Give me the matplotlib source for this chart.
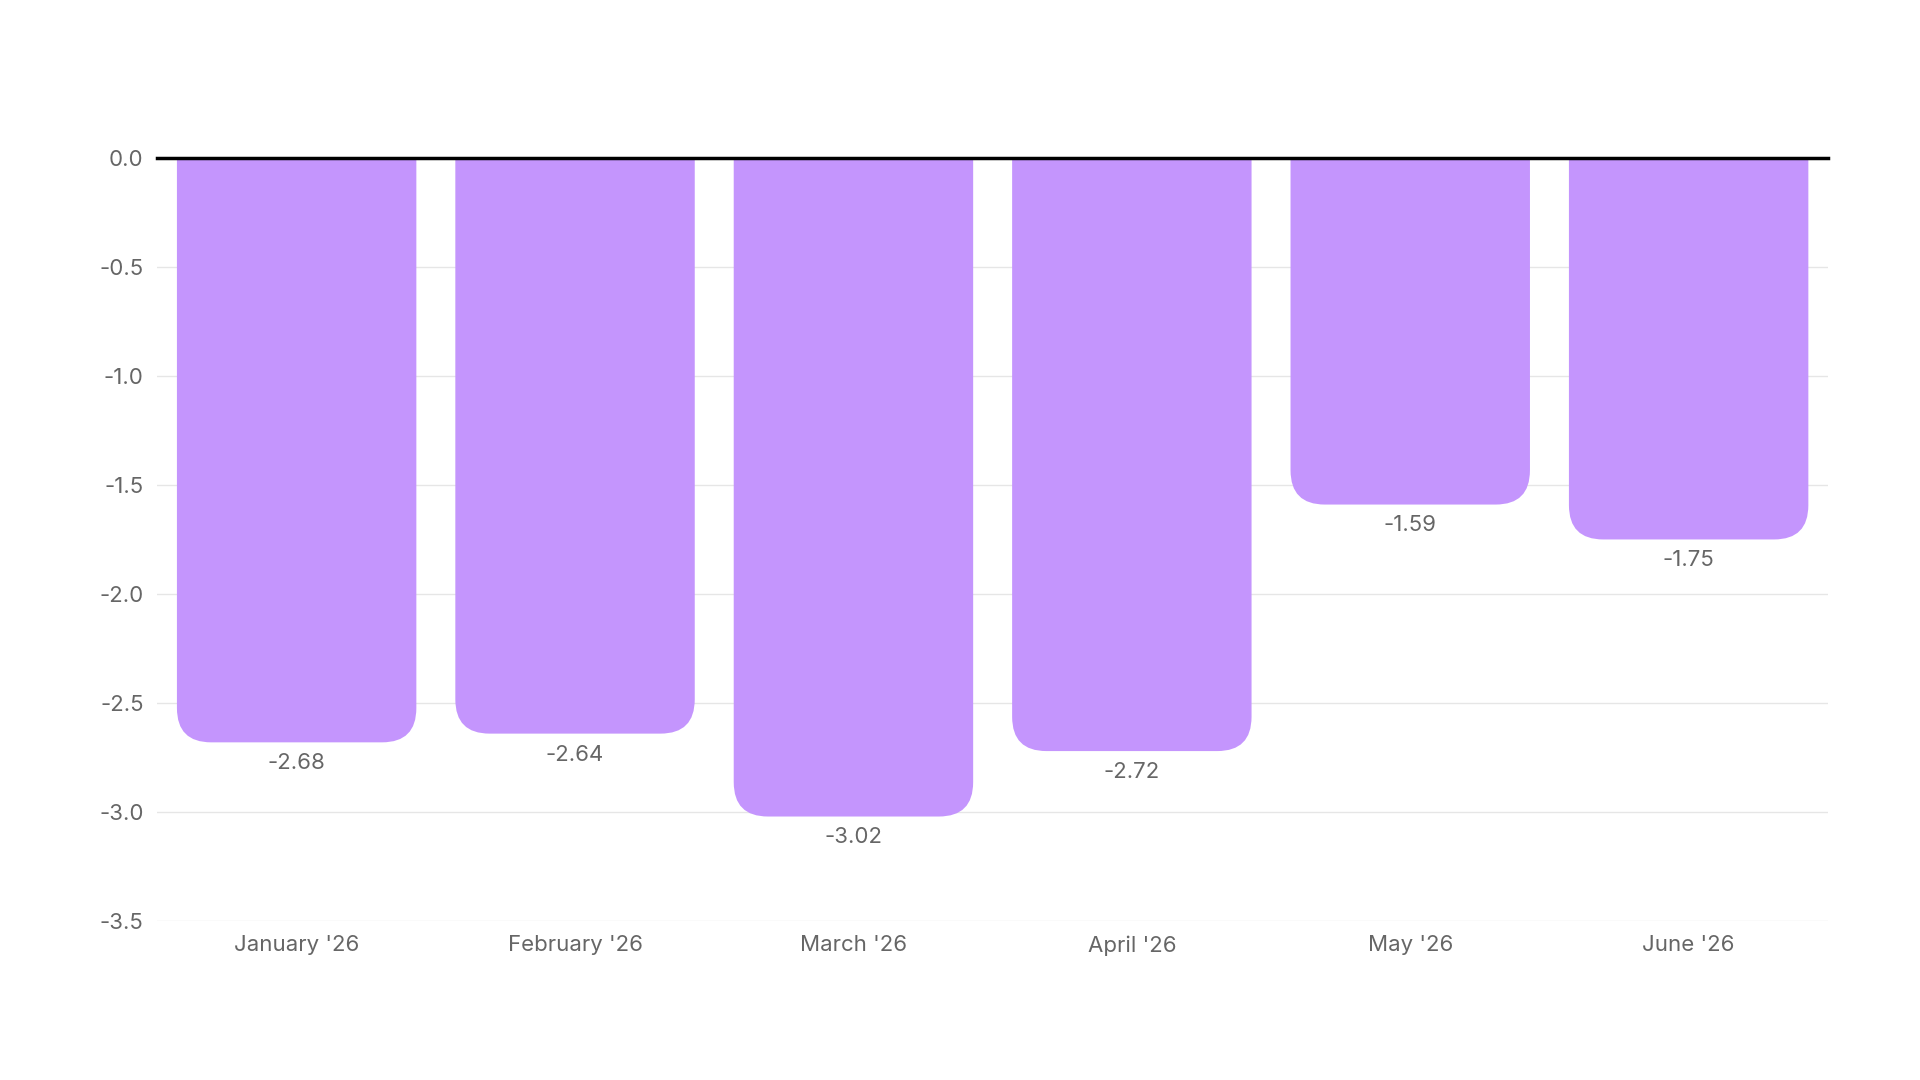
import matplotlib.pyplot as plt
from matplotlib.patches import FancyBboxPatch

months = ["January '26", "February '26", "March '26", "April '26", "May '26", "June '26"]
values = [-2.68, -2.64, -3.02, -2.72, -1.59, -1.75]
yticks = [0.0, -0.5, -1.0, -1.5, -2.0, -2.5, -3.0, -3.5]

plt.rcParams['font.family'] = ['Inter', 'DejaVu Sans']
fig = plt.figure(figsize=(19.2, 10.8), dpi=100)
ax = fig.add_axes([0.082, 0.147, 0.870, 0.707])

bar_w = 0.86
rx = 0.123
ry = 0.157
for i, v in enumerate(values):
    p = FancyBboxPatch((i - bar_w / 2, v), bar_w, -v + 0.5,
                       boxstyle=f"round,pad=0,rounding_size={rx}",
                       mutation_aspect=ry / rx,
                       facecolor="#c495fd", edgecolor="none", zorder=2)
    ax.add_patch(p)
    ax.text(i, v - 0.05, f"{v:.2f}", ha="center", va="top",
            fontsize=16, color="#666666", zorder=3)

ax.set_xlim(-0.5, 5.5)
ax.set_ylim(-3.5, 0)
ax.set_yticks(yticks)
ax.set_yticklabels([f"{t:.1f}" for t in yticks])
ax.set_xticks(range(len(months)))
ax.set_xticklabels(months)
ax.tick_params(length=0, labelsize=16, labelcolor="#666666", pad=10)
ax.grid(axis="y", color="#e6e6e6", linewidth=1, zorder=0)
ax.axhline(0, color="black", linewidth=2.5, zorder=4, clip_on=False)
for s in ax.spines.values():
    s.set_visible(False)

fig.savefig("out.png", dpi=100)
